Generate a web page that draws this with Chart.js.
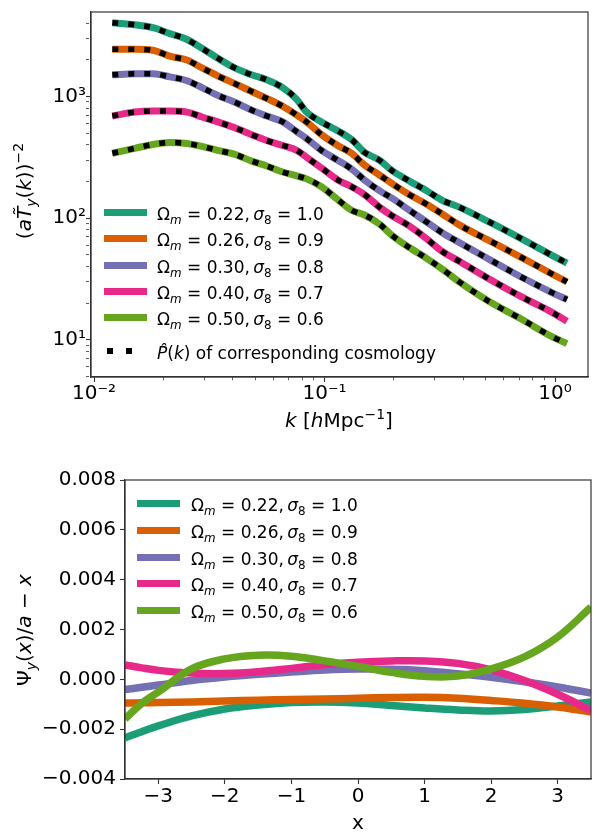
<!DOCTYPE html>
<html>
<head>
<meta charset="utf-8">
<script src="https://cdn.jsdelivr.net/npm/chart.js@4.4.0/dist/chart.umd.min.js"></script>
<style>
  html, body { margin: 0; padding: 0; background: #fff; }
  #page { position: relative; width: 596px; height: 835px; font-family: 'DejaVu Sans'; color: #000; overflow: hidden; }
  #top-chart { position: absolute; left: 0; top: 0; }
  #bottom-chart { position: absolute; left: 0; top: 440px; }
  .lbl { position: absolute; white-space: nowrap; font-size: 20px; line-height: 24px; transform: translate(-50%, -50%); }
  .lbl.rot { transform: translate(-50%, -50%) rotate(-90deg); }
  .leg { position: absolute; white-space: nowrap; font-size: 17px; line-height: 24px; height: 24px; }
  .sw { position: absolute; width: 43px; height: 7px; }
  .dots { position: absolute; width: 32px; height: 6px;
          background: repeating-linear-gradient(to right, #000 0 6px, transparent 6px 19px); }
  sub, sup { font-size: 70%; line-height: 0; }
</style>
</head>
<body>
<div id="page">
  <canvas id="top-chart" width="596" height="440"></canvas>
  <canvas id="bottom-chart" width="596" height="395"></canvas>

  <div class="lbl rot" style="left:24px; top:191px;">(<i>a</i><i>T&#771;</i><sub><i>y</i></sub>(<i>k</i>))<sup>&minus;2</sup></div>
  <div class="lbl" style="left:339px; top:420px;"><i>k</i> [<i>h</i>Mpc<sup>&minus;1</sup>]</div>
  <div class="lbl rot" style="left:24px; top:630px;">&Psi;<sub><i>y</i></sub>(<i>x</i>)/<i>a</i> &minus; <i>x</i></div>
  <div class="lbl" style="left:358px; top:822px;">x</div>
</div>

<script>
// cosmologies
const omegaM = ['0.22', '0.26', '0.30', '0.40', '0.50'];
const sigma8 = ['1.0', '0.9', '0.8', '0.7', '0.6'];
const colors = ['#1b9e77', '#d95f02', '#7570b3', '#e7298a', '#66a61e'];

// ---- top panel: (a T_y(k))^-2 vs k ----
const kVals = [0.012, 0.015, 0.018, 0.0213, 0.0253, 0.0294, 0.0344, 0.0408, 0.0483, 0.0561,
               0.0658, 0.0757, 0.0836, 0.097, 0.114, 0.131, 0.149, 0.173, 0.197, 0.233,
               0.277, 0.324, 0.384, 0.518, 0.713, 0.97, 1.127];
const pk022 = [4026, 3878, 3668, 3282, 2936, 2484, 2063, 1713, 1504, 1371, 1182, 946, 743, 617,
               522, 442, 347, 299, 244, 202, 168, 140, 123, 92.9, 67.7, 49.4, 42.6];
const pk026 = [2438, 2438, 2393, 2142, 1988, 1713, 1476, 1273, 1097, 963, 831, 703, 617, 485,
               395, 341, 273, 226, 191, 156, 130, 108, 87.9, 65.3, 47.6, 34.7, 29.9];
const pk030 = [1504, 1533, 1533, 1449, 1346, 1182, 1019, 895, 771, 690, 617, 513, 450, 360,
               299, 253, 206, 168, 145, 116, 92.9, 75.7, 62.9, 45.8, 32.8, 24.4, 21.4];
const pk040 = [690, 743, 757, 757, 743, 677, 617, 552, 485, 434, 395, 360, 316, 258,
               206, 181, 156, 123, 104, 86.2, 67.7, 53.2, 44.2, 31.6, 22.6, 16.8, 14.2];
const pk050 = [341, 374, 403, 418, 410, 388, 360, 334, 294, 268, 239, 222, 210, 181,
               142, 116, 106, 89.5, 71.6, 57.3, 46.7, 38.1, 29.9, 20.6, 14.8, 10.6, 9.29];
const kTicks = [0.01, 0.02, 0.03, 0.04, 0.05, 0.06, 0.07, 0.08, 0.09,
                0.1, 0.2, 0.3, 0.4, 0.5, 0.6, 0.7, 0.8, 0.9, 1];
const pTicks = [5, 6, 7, 8, 9, 10, 20, 30, 40, 50, 60, 70, 80, 90,
                100, 200, 300, 400, 500, 600, 700, 800, 900, 1000, 2000, 3000, 4000];
const powLabels = { '-2': '10\u207b\u00b2', '-1': '10\u207b\u00b9', '0': '10\u2070',
                    '1': '10\u00b9', '2': '10\u00b2', '3': '10\u00b3' };

// ---- bottom panel: Psi_y(x)/a - x ----
const xVals = [-3.5, -3.25, -3, -2.5, -2, -1.5, -1, -0.5, 0, 0.5, 1, 1.5, 2, 2.5, 3, 3.5];
const psi022 = [-0.00235, -0.0021, -0.00187, -0.00147, -0.00119, -0.00103, -0.00093, -0.00091, -0.00095,
                -0.00105, -0.00115, -0.00123, -0.00127, -0.00121, -0.00107, -0.00091];
const psi026 = [-0.00095, -0.00094, -0.00093, -0.00091, -0.00087, -0.00084, -0.00081, -0.00079, -0.00076,
                -0.00073, -0.00072, -0.00076, -0.00085, -0.00096, -0.00111, -0.00131];
const psi030 = [-0.00041, -0.00032, -0.00023, -0.00005, 0.00009, 0.0002, 0.00029, 0.00037, 0.00041,
                0.0004, 0.00034, 0.00022, 0.00008, -0.0001, -0.00031, -0.00055];
const psi040 = [0.00058, 0.00046, 0.00036, 0.00025, 0.00023, 0.0003, 0.00044, 0.00059, 0.00069,
                0.00074, 0.00074, 0.00064, 0.00038, -0.00005, -0.0006, -0.00125];
const psi050 = [-0.00159, -0.00097, -0.00051, 0.00042, 0.00082, 0.00097, 0.00093, 0.00074, 0.00052,
                0.00028, 0.00012, 0.00013, 0.00042, 0.0009, 0.0017, 0.0029];
const xTicks = [-3, -2, -1, 0, 1, 2, 3];
const xTickLabels = ['\u22123', '\u22122', '\u22121', '0', '1', '2', '3'];
const yTicks = [-0.004, -0.002, 0, 0.002, 0.004, 0.006, 0.008];
const yTickLabels = ['\u22120.004', '\u22120.002', '0.000', '0.002', '0.004', '0.006', '0.008'];

const isPow = v => Math.abs(Math.log10(v) - Math.round(Math.log10(v))) < 1e-9;
const tickFont = { family: 'DejaVu Sans', size: 20 };

// box round the plot area, like matplotlib spines
const frame = {
  id: 'frame',
  afterDraw(chart) {
    const { ctx, chartArea: a } = chart;
    ctx.save();
    ctx.strokeStyle = '#333';
    ctx.lineWidth = 1.2;
    ctx.strokeRect(a.left, a.top, a.right - a.left, a.bottom - a.top);
    ctx.restore();
  }
};

function logGrid() {
  return {
    drawOnChartArea: false,
    tickLength: 5,
    tickColor: '#333',
    tickWidth: ctx => (ctx.tick && isPow(ctx.tick.value) ? 1.1 : 0.8),
    tickBorderDash: ctx => (ctx.tick && isPow(ctx.tick.value) ? [] : [3, 30])
  };
}

const pkSeries = [pk022, pk026, pk030, pk040, pk050];
const topSets = [];
pkSeries.forEach((vals, i) => {
  topSets.push({
    label: 'Om=' + omegaM[i] + ', s8=' + sigma8[i],
    data: kVals.map((k, j) => ({ x: k, y: vals[j] })),
    borderColor: colors[i],
    borderWidth: 7,
    cubicInterpolationMode: 'monotone',
    order: 10 - i
  });
});
pkSeries.forEach(vals => {
  topSets.push({
    label: 'P(k) of corresponding cosmology',
    data: kVals.map((k, j) => ({ x: k, y: vals[j] })),
    borderColor: '#000',
    borderWidth: 5.5,
    borderDash: [6, 10],
    borderCapStyle: 'butt',
    cubicInterpolationMode: 'monotone',
    order: 0
  });
});

new Chart(document.getElementById('top-chart'), {
  type: 'line',
  data: { datasets: topSets },
  options: {
    responsive: false,
    animation: false,
    layout: { padding: { top: 5, right: 8, left: 0, bottom: 0 } },
    plugins: { legend: { display: false }, tooltip: { enabled: false } },
    elements: { point: { radius: 0 } },
    scales: {
      x: {
        type: 'logarithmic',
        min: 0.0097,
        max: 1.39,
        afterFit: s => { s.height = 63; },
        afterBuildTicks: s => { s.ticks = kTicks.map(v => ({ value: v })); },
        ticks: {
          autoSkip: false, maxRotation: 0, padding: 0, color: '#000', font: tickFont,
          callback: v => (isPow(v) ? powLabels[Math.round(Math.log10(v))] : '')
        },
        grid: logGrid(),
        border: { color: '#333', width: 1.2 }
      },
      y: {
        type: 'logarithmic',
        min: 4.94,
        max: 4940,
        afterFit: s => { s.width = 91; },
        afterBuildTicks: s => { s.ticks = pTicks.map(v => ({ value: v })); },
        ticks: {
          autoSkip: false, padding: 0, color: '#000', font: tickFont,
          callback: v => (isPow(v) ? powLabels[Math.round(Math.log10(v))] : '')
        },
        grid: logGrid(),
        border: { color: '#333', width: 1.2 }
      }
    }
  },
  plugins: [frame]
});

const psiSeries = [psi022, psi026, psi030, psi040, psi050];
new Chart(document.getElementById('bottom-chart'), {
  type: 'line',
  data: {
    datasets: psiSeries.map((vals, i) => ({
      label: 'Om=' + omegaM[i] + ', s8=' + sigma8[i],
      data: xVals.map((x, j) => ({ x: x, y: vals[j] })),
      borderColor: colors[i],
      borderWidth: 7.5,
      tension: 0.4,
      order: 10 - i
    }))
  },
  options: {
    responsive: false,
    animation: false,
    layout: { padding: { top: 40, right: 5, left: 0, bottom: 0 } },
    plugins: { legend: { display: false }, tooltip: { enabled: false } },
    elements: { point: { radius: 0 } },
    scales: {
      x: {
        type: 'linear',
        min: -3.5,
        max: 3.5,
        afterFit: s => { s.height = 56; },
        afterBuildTicks: s => { s.ticks = xTicks.map(v => ({ value: v })); },
        ticks: {
          autoSkip: false, maxRotation: 0, padding: 1, color: '#000', font: tickFont,
          callback: (v, i) => xTickLabels[i]
        },
        grid: { drawOnChartArea: false, tickLength: 5, tickColor: '#333', tickWidth: 1.1 },
        border: { color: '#333', width: 1.2 }
      },
      y: {
        type: 'linear',
        min: -0.004,
        max: 0.008,
        afterFit: s => { s.width = 125; },
        afterBuildTicks: s => { s.ticks = yTicks.map(v => ({ value: v })); },
        ticks: {
          autoSkip: false, padding: 4, color: '#000', font: tickFont,
          callback: (v, i) => yTickLabels[i]
        },
        grid: { drawOnChartArea: false, tickLength: 5, tickColor: '#333', tickWidth: 1.1 },
        border: { color: '#333', width: 1.2 }
      }
    }
  },
  plugins: [frame]
});

// legends, drawn inside the axes like the matplotlib ones
const page = document.getElementById('page');
function legendRow(lineX, textX, y, color, html, dotted) {
  const sw = document.createElement('div');
  if (dotted) {
    sw.className = 'dots';
    sw.style.left = (lineX + 3) + 'px';
    sw.style.top = (y - 3) + 'px';
  } else {
    sw.className = 'sw';
    sw.style.left = lineX + 'px';
    sw.style.top = (y - 3.5) + 'px';
    sw.style.background = color;
  }
  page.appendChild(sw);
  const t = document.createElement('div');
  t.className = 'leg';
  t.style.left = textX + 'px';
  t.style.top = (y - 10.5) + 'px';
  t.innerHTML = html;
  page.appendChild(t);
}
const cosmoText = i => '\u03a9<sub><i>m</i></sub> = ' + omegaM[i] + ',\u2009<i>\u03c3</i><sub>8</sub> = ' + sigma8[i];
const topRows = [212, 238, 265, 291, 317];
const bottomRows = [503, 530, 557, 583, 610];
topRows.forEach((y, i) => legendRow(104, 157, y, colors[i], cosmoText(i), false));
legendRow(104, 157, 351, '#000', '<i>P&#770;</i>(<i>k</i>) of corresponding cosmology', true);
bottomRows.forEach((y, i) => legendRow(137, 191, y, colors[i], cosmoText(i), false));
</script>
</body>
</html>
